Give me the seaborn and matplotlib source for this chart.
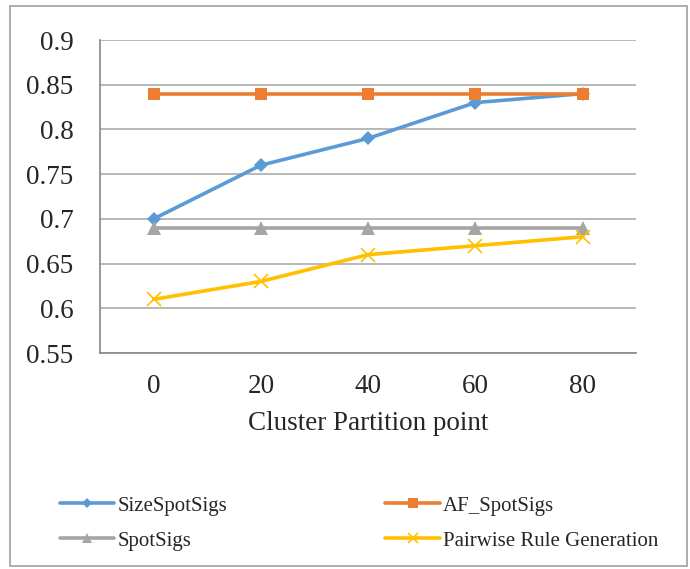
import matplotlib
matplotlib.use("Agg")
import matplotlib.pyplot as plt
import seaborn as sns
import pandas as pd
from matplotlib.patches import Rectangle
from matplotlib.ticker import FixedLocator, NullFormatter

categories = ["0", "20", "40", "60", "80"]
size_spotsigs = [0.70, 0.76, 0.79, 0.83, 0.84]
af_spotsigs = [0.84, 0.84, 0.84, 0.84, 0.84]
spotsigs = [0.69, 0.69, 0.69, 0.69, 0.69]
pairwise = [0.61, 0.63, 0.66, 0.67, 0.68]
series_names = ["SizeSpotSigs", "AF_SpotSigs", "SpotSigs", "Pairwise Rule Generation"]
series_values = [size_spotsigs, af_spotsigs, spotsigs, pairwise]
y_ticks = [0.55, 0.6, 0.65, 0.7, 0.75, 0.8, 0.85, 0.9]
y_labels = ["0.55", "0.6", "0.65", "0.7", "0.75", "0.8", "0.85", "0.9"]

rows = []
for name, vals in zip(series_names, series_values):
    for i, v in enumerate(vals):
        rows.append({"x": i, "value": v, "series": name})
df = pd.DataFrame(rows)

sns.set_style("white")
plt.rcParams["font.family"] = ["Liberation Serif", "DejaVu Serif"]

fig = plt.figure(figsize=(6.9, 5.69), dpi=100)
ax = fig.add_axes([0.145, 0.3796, 0.777, 0.5501])

palette = {"SizeSpotSigs": "#5B9BD5", "AF_SpotSigs": "#ED7D31",
           "SpotSigs": "#A5A5A5", "Pairwise Rule Generation": "#FFC000"}
markers = {"SizeSpotSigs": "D", "AF_SpotSigs": "s",
           "SpotSigs": "^", "Pairwise Rule Generation": "x"}
sizes = {"SizeSpotSigs": 7, "AF_SpotSigs": 9, "SpotSigs": 10, "Pairwise Rule Generation": 10}

for name in series_names:
    sub = df[df["series"] == name]
    sns.lineplot(data=sub, x="x", y="value", ax=ax, color=palette[name],
                 marker=markers[name], markersize=sizes[name], linewidth=2.6,
                 markeredgewidth=1.2 if markers[name] == "x" else 0,
                 markeredgecolor=palette[name], label=name, legend=False)

ax.set_xlim(-0.5, 4.5)
ax.set_ylim(0.55, 0.9)
ax.set_yticks(y_ticks)
ax.set_yticklabels(y_labels, fontsize=19.5)
ax.set_xticks(range(len(categories)))
ax.set_xticklabels(categories, fontsize=19.5)
ax.xaxis.set_minor_locator(FixedLocator([-0.5, 0.5, 1.5, 2.5, 3.5, 4.5]))
ax.xaxis.set_minor_formatter(NullFormatter())
ax.tick_params(axis="x", which="major", length=0, pad=15)
ax.tick_params(axis="x", which="minor", length=6, color="#888888", width=1.2, direction="out")
ax.tick_params(axis="y", length=7, color="#A0A0A0", width=1, direction="out", pad=12)
ax.set_xlabel("Cluster Partition point", fontsize=19.5, labelpad=9)
ax.set_ylabel("")
ax.grid(axis="y", color="#ABABAB", linewidth=1.2)
ax.grid(axis="x", visible=False)
ax.set_axisbelow(True)
for s in ["top", "right"]:
    ax.spines[s].set_visible(False)
ax.spines["left"].set_color("#888888")
ax.spines["left"].set_linewidth(1.2)
ax.spines["bottom"].set_color("#888888")
ax.spines["bottom"].set_linewidth(1.2)

handles, labels = ax.get_legend_handles_labels()
order = [0, 2, 1, 3]
fig.legend([handles[i] for i in order], [labels[i] for i in order],
           loc="upper left", bbox_to_anchor=(0.075, 0.143),
           ncol=2, frameon=False, fontsize=15, columnspacing=7.6, handlelength=2.6,
           handletextpad=0.15, labelspacing=0.75, borderaxespad=0, markerscale=0.75)

fig.patches.append(Rectangle((0.0145, 0.006), 0.981, 0.984, transform=fig.transFigure,
                             fill=False, edgecolor="#A0A0A0", linewidth=1.2))

fig.savefig("out.png", dpi=100)
